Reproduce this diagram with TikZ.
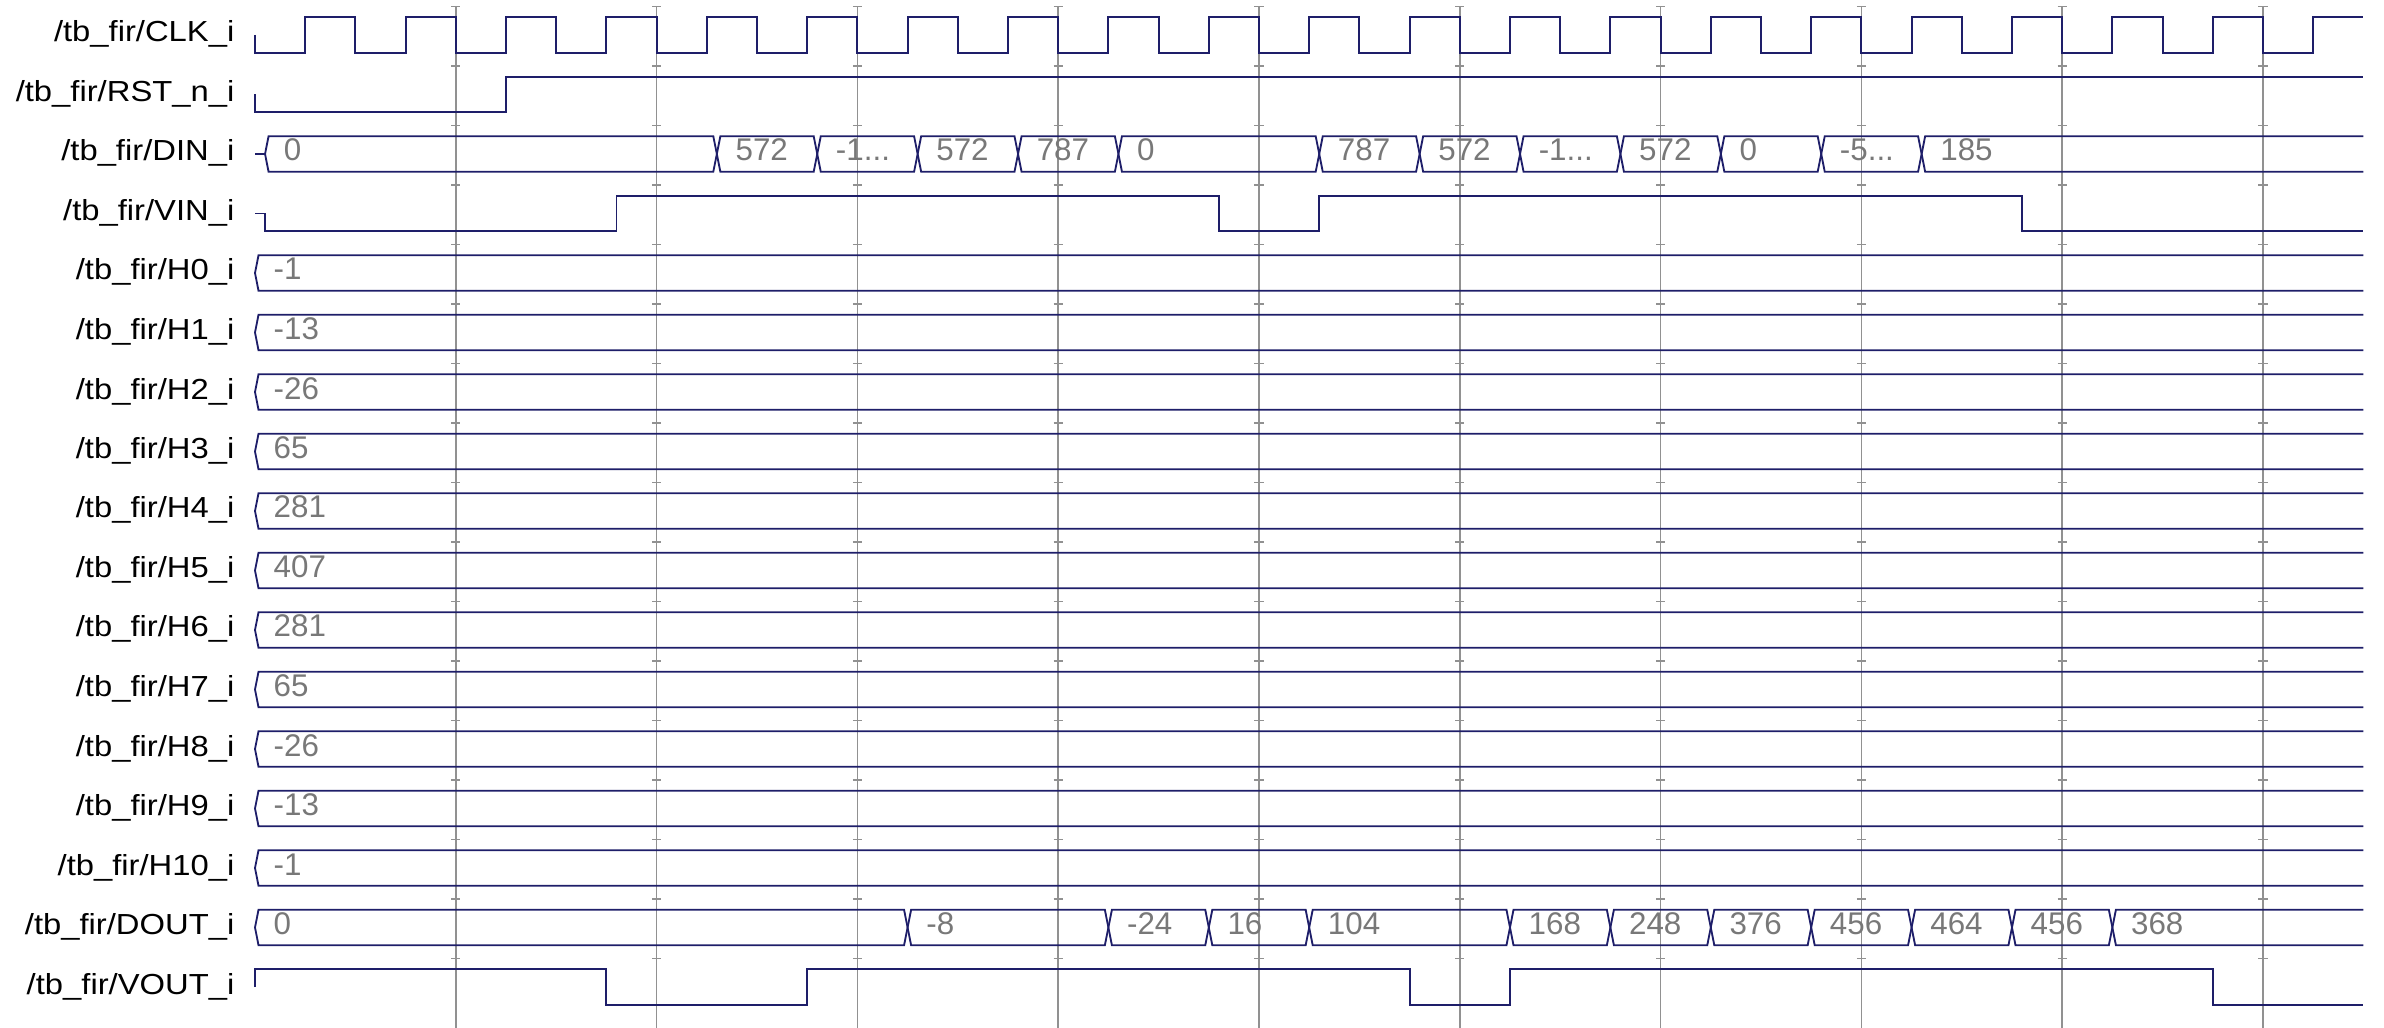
\documentclass[tikz,border=0pt]{standalone}
\usepackage{fontspec}
\setmainfont{Liberation Sans}
\usepackage{graphicx}
\usepackage{tikz}
\usepackage{xcolor}

\definecolor{wavecol}{RGB}{30,30,105}
\definecolor{gridcol}{RGB}{145,145,145}
\definecolor{valcol}{RGB}{120,120,120}

\begin{document}
\begin{tikzpicture}[x=0.3pt, y=-0.3pt,
    wave/.style={draw=wavecol, line width=0.55pt},
    gridline/.style={draw=gridcol, line width=0.45pt},
    lbl/.style={anchor=base east, inner sep=0pt, font=\fontsize{8.7}{10}\selectfont},
    val/.style={anchor=base west, inner sep=0pt, text=valcol, font=\fontsize{9.4}{11}\selectfont}]
    \useasboundingbox (0,0) rectangle (2384,1028);

    % Signal names
    \foreach \s [count=\k from 0] in {CLK\_i, RST\_n\_i, DIN\_i, VIN\_i, H0\_i, H1\_i, H2\_i, H3\_i, H4\_i, H5\_i, H6\_i, H7\_i, H8\_i, H9\_i, H10\_i, DOUT\_i, VOUT\_i} {
        \node[lbl] (name\k) at (235,{42+59.5*\k}) {\scalebox{1.13}[1]{/tb\_fir/\s}};
    }

    % Time axis: one unit = half a clock period
    \begin{scope}[shift={(255,0)}, x=15.06pt]
    % Grid
    \foreach \g in {4,8,...,40} {
        \draw[gridline] (\g,6.7) -- (\g,1028);
        \foreach \k in {0,...,16}
            \draw[gridline] ({\g-0.09},{6.7+59.5*\k}) -- ({\g+0.09},{6.7+59.5*\k});
    }

    % Clock
    \draw[wave] (0,35) -- (0,52.7) \foreach \i in {0,...,19} { -- ({2*\i+1},52.7) -- ({2*\i+1},17.3) -- ({2*\i+2},17.3) -- ({2*\i+2},52.7) } -- (41,52.7) -- (41,17.3) -- (42,17.3);

    % Reset
    \draw[wave] (0,94.5) -- (0,112.2) -- (5,112.2) -- (5,76.8) -- (42,76.8);

    % Valid in
    \draw[wave] (0,213.5) -- (0.2,213.5) -- (0.2,231.2) -- (7.2,231.2) -- (7.2,195.8) -- (19.2,195.8) -- (19.2,231.2) -- (21.2,231.2) -- (21.2,195.8) -- (35.2,195.8) -- (35.2,231.2) -- (42,231.2);

    % Valid out
    \draw[wave] (0,987) -- (0,969.3) -- (7,969.3) -- (7,1004.7) -- (11,1004.7) -- (11,969.3) -- (23,969.3) -- (23,1004.7) -- (25,1004.7) -- (25,969.3) -- (39,969.3) -- (39,1004.7) -- (42,1004.7);

    % Buses
    \begin{scope}
    \clip (-1,0) rectangle (42,1028);
    % Data in
    \draw[wave] (0,154) -- (0.2,154);
    \foreach \a/\b/\v [count=\j] in {0.2/9.2/0, 9.2/11.2/572, 11.2/13.2/-1.{}.{}., 13.2/15.2/572, 15.2/17.2/787, 17.2/21.2/0, 21.2/23.2/787, 23.2/25.2/572, 25.2/27.2/-1.{}.{}., 27.2/29.2/572, 29.2/31.2/0, 31.2/33.2/-5.{}.{}., 33.2/42.5/185} {
        \draw[wave] (\a,154) -- ({\a+0.07},136.3) -- ({\b-0.07},136.3) -- (\b,154) -- ({\b-0.07},171.7) -- ({\a+0.07},171.7) -- cycle;
        \node[val] (din\j) at ({\a+0.36},161) {\v};
    }
    % Coefficients
    \foreach \v [count=\k from 4] in {-1,-13,-26,65,281,407,281,65,-26,-13,-1} {
        \pgfmathsetmacro{\ym}{35+59.5*\k}
        \draw[wave] (0,\ym) -- (0.07,{\ym-17.7}) -- (42.43,{\ym-17.7}) -- (42.5,\ym) -- (42.43,{\ym+17.7}) -- (0.07,{\ym+17.7}) -- cycle;
        \node[val] (coef\k) at (0.36,{\ym+7}) {\v};
    }
    % Data out
    \foreach \a/\b/\v [count=\j] in {0/13/0, 13/17/-8, 17/19/-24, 19/21/16, 21/25/104, 25/27/168, 27/29/248, 29/31/376, 31/33/456, 33/35/464, 35/37/456, 37/42.5/368} {
        \draw[wave] (\a,927.5) -- ({\a+0.07},909.8) -- ({\b-0.07},909.8) -- (\b,927.5) -- ({\b-0.07},945.2) -- ({\a+0.07},945.2) -- cycle;
        \node[val] (dout\j) at ({\a+0.36},934.5) {\v};
    }
    \end{scope}
    \end{scope}
\end{tikzpicture}
\end{document}
